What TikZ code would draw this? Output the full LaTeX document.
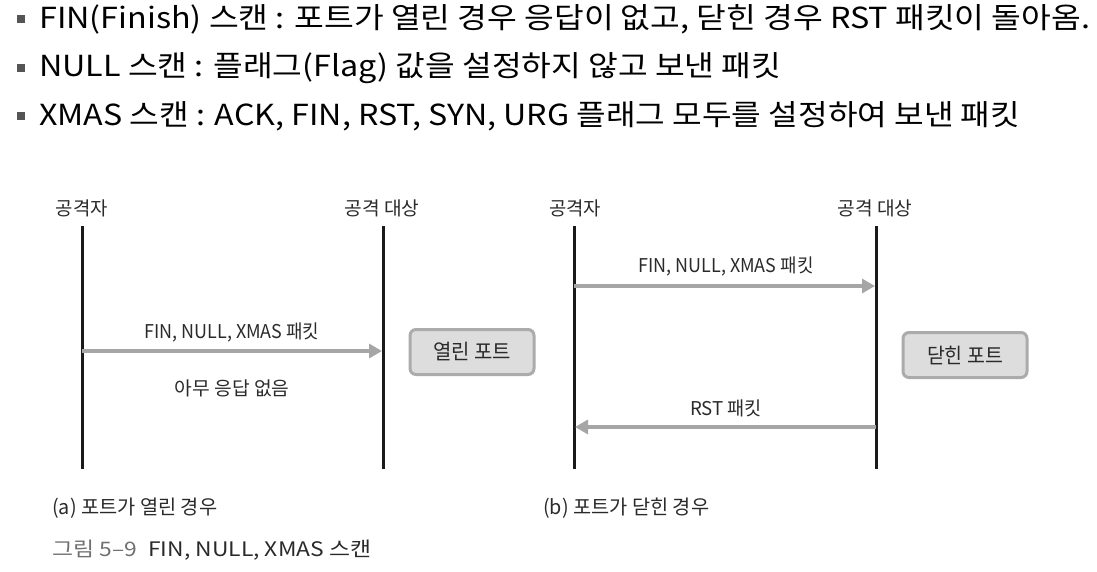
\documentclass[tikz,border=0pt]{standalone}
\usepackage{graphicx}
\usepackage{fontspec}
\setmainfont{Noto Sans CJK KR}
\usetikzlibrary{arrows.meta}
\definecolor{lifec}{HTML}{1A1A1A}
\definecolor{arrc}{HTML}{A6A6A6}
\definecolor{boxfill}{HTML}{DDDDDD}
\definecolor{boxline}{HTML}{ABABAB}
\definecolor{bulc}{HTML}{555555}
\definecolor{labc}{HTML}{2A2A2A}
\definecolor{capgray}{HTML}{707070}
\newcommand{\fitw}[2]{\resizebox{#1}{\height}{#2}}
\tikzset{
  bullettext/.style={anchor=west, inner sep=0pt, font=\fontsize{29}{32}\selectfont, text=black},
  bulletsq/.style={fill=bulc, draw=none, minimum size=8pt, inner sep=0pt},
  actor/.style={inner sep=0pt, font=\fontsize{19}{22}\selectfont, text=labc},
  msg/.style={inner sep=0pt, font=\fontsize{19}{22}\selectfont, text=labc},
  lifeline/.style={draw=lifec, line width=3pt},
  arrow/.style={draw=arrc, line width=4.5pt, -{Triangle[length=13pt,width=14pt]}, shorten >=1pt},
  portbox/.style={draw=boxline, fill=boxfill, line width=3pt, rounded corners=6pt, minimum width=124pt, minimum height=45pt, font=\fontsize{21}{24}\selectfont, text=labc},
  caption/.style={anchor=west, inner sep=0pt, font=\fontsize{20}{23}\selectfont, text=labc},
}
\begin{document}
\begin{tikzpicture}[x=1pt,y=-1pt]
\useasboundingbox (0,0) rectangle (1097,571);
% bullets
\node[bulletsq] (b1) at (21,19) {};
\node[bulletsq] (b2) at (21,68) {};
\node[bulletsq] (b3) at (21,116) {};
\node[bullettext] (t1) at (39,19) {\fitw{1051pt}{FIN(Finish) 스캔 : 포트가 열린 경우 응답이 없고, 닫힌 경우 RST 패킷이 돌아옴.}};
\node[bullettext] (t2) at (39,68) {\fitw{742pt}{NULL 스캔 : 플래그(Flag) 값을 설정하지 않고 보낸 패킷}};
\node[bullettext] (t3) at (39,116) {\fitw{981pt}{XMAS 스캔 : ACK, FIN, RST, SYN, URG 플래그 모두를 설정하여 보낸 패킷}};
% left diagram
\node[actor] (la) at (82,208) {\fitw{52pt}{공격자}};
\node[actor] (lt) at (382,208) {\fitw{75pt}{공격 대상}};
\coordinate (la1) at (82,226); \coordinate (la2) at (82,469);
\coordinate (lt1) at (383,226); \coordinate (lt2) at (383,469);
\draw[lifeline] (la1) -- (la2);
\draw[lifeline] (lt1) -- (lt2);
\coordinate (lm1) at (82,351); \coordinate (lm2) at (383,351);
\draw[arrow] (lm1) -- (lm2);
\node[msg] (lml) at (232,332) {\fitw{175pt}{FIN, NULL, XMAS 패킷}};
\node[msg] (lnr) at (232,388) {\fitw{115pt}{아무 응답 없음}};
\node[portbox] (open) at (472,352) {\fitw{78pt}{열린 포트}};
% right diagram
\node[actor] (ra) at (575,208) {\fitw{52pt}{공격자}};
\node[actor] (rt) at (875,208) {\fitw{75pt}{공격 대상}};
\coordinate (ra1) at (574,226); \coordinate (ra2) at (574,469);
\coordinate (rt1) at (876,226); \coordinate (rt2) at (876,469);
\draw[lifeline] (ra1) -- (ra2);
\draw[lifeline] (rt1) -- (rt2);
\coordinate (rm1) at (574,286); \coordinate (rm2) at (876,286);
\draw[arrow] (rm1) -- (rm2);
\node[msg] (rml) at (726,266) {\fitw{175pt}{FIN, NULL, XMAS 패킷}};
\coordinate (rr1) at (876,427); \coordinate (rr2) at (574,427);
\draw[arrow] (rr1) -- (rr2);
\node[msg] (rrl) at (726,408) {\fitw{72pt}{RST 패킷}};
\node[portbox] (closed) at (965,355) {\fitw{76pt}{닫힌 포트}};
% captions
\node[caption] (ca) at (52,508) {\fitw{165pt}{(a) 포트가 열린 경우}};
\node[caption] (cb) at (543,508) {\fitw{166pt}{(b) 포트가 닫힌 경우}};
\node[caption] (cf) at (52,550) {\fitw{319pt}{\textcolor{capgray}{그림 5–9}\hspace{10pt}FIN, NULL, XMAS 스캔}};
\end{tikzpicture}
\end{document}
